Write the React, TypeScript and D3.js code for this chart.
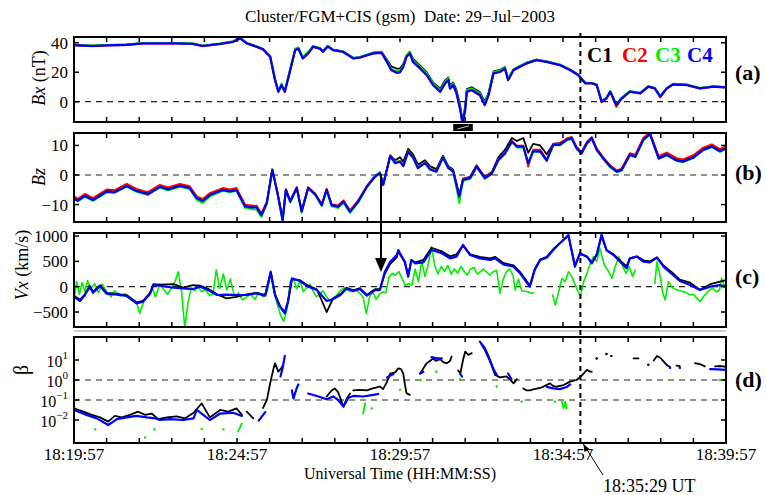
import { useEffect, useRef } from 'react';
import * as d3 from 'd3';

type Pt = [number, number | null];

const FONT = "'Liberation Serif', 'Times New Roman', Times, serif";
const COLORS = { c1: '#000000', c2: '#ff0000', c3: '#00ee00', c4: '#0000ff' };

// time axis in seconds after 18:19:57 UT
const timeLabels = ['18:19:57', '18:24:57', '18:29:57', '18:34:57', '18:39:57'];
const labelSecs = [0, 300, 600, 900, 1200];
const eventSec = 932; // 18:35:29 UT
const onsetSec = 565;
const intervalMark = [698, 734];

// (a) Bx (nT)
const timesA = [0, 20, 35, 60, 97, 127, 158, 189, 219, 237,
  269, 293, 306, 318, 336, 348, 361, 370, 376, 382,
  388, 398, 407, 413, 421, 431, 440, 453, 458, 467,
  477, 495, 514, 526, 550, 566, 576, 584, 594, 600,
  606, 612, 618, 624, 637, 649, 661, 674, 683, 689,
  692, 698, 704, 711, 715, 720, 723, 732, 747, 756,
  763, 772, 784, 793, 799, 809, 833, 851, 870, 894,
  913, 928, 941, 953, 962, 971, 980, 987, 998, 1008,
  1023, 1042, 1057, 1069, 1079, 1091, 1103, 1128, 1152, 1177,
  1200];
const bxC1 = [38.6, 38.2, 38, 38.4, 38.8, 39.8, 39.8, 39.8, 39.4, 38,
  39.4, 40.9, 43.2, 39.8, 37.5, 35.8, 31, 15.5, 7.2, 11,
  7.5, 22, 35.5, 36.5, 30, 33.3, 37.6, 36.3, 34.3, 37.8,
  35.3, 34.2, 29.8, 30.3, 33.2, 34, 28.5, 24, 22.5, 22.5,
  25.5, 31.5, 34, 29, 24.5, 20, 13, 8.8, 14.5, 16.5,
  11, 13, 8, -3, -13, -3, 8.5, 9.8, 6.5, 0,
  6, 20.5, 21.5, 23.5, 15.5, 22, 26.5, 28.6, 27.3, 25.2,
  21.8, 18.4, 12.8, 12.8, 11.6, 0.5, 2.6, 7, -1.8, 2.6,
  7, 6, 10.4, 9.2, 3.8, 9.2, 12, 11.5, 9.2, 10.4,
  9.9];
const bxC2 = [38.2, 37.8, 37.6, 38, 38.4, 39.4, 39.4, 39.4, 39, 37.6,
  39, 40.5, 42.8, 39.4, 37.1, 35.3, 30.2, 14.3, 6.5, 11,
  6.5, 21, 34.8, 35.8, 29.2, 32.6, 37.1, 35.8, 33.7, 37.3,
  34.8, 33.7, 29.2, 29.8, 32.6, 33, 26.8, 21.3, 19.5, 19.8,
  23.5, 30.2, 32.6, 26.8, 22.4, 17.9, 11, 6.5, 12.2, 14.5,
  8.7, 11, 5.4, -5.8, -15, -5.8, 6.5, 7.6, 4.2, -2.5,
  4.2, 19, 20, 22.4, 14.5, 21.3, 25.8, 28.1, 26.8, 24.7,
  21.3, 17.9, 12.2, 12.2, 11, -0.5, 2, 6.4, -3.6, 2,
  6.6, 5.5, 10, 8.8, 2.8, 8.8, 11.6, 11.1, 8.8, 10,
  9.5];
const bxC3 = [38.6, 38.3, 38, 38.5, 38.9, 39.9, 39.9, 39.9, 39.5, 38.1,
  39.5, 41, 43.2, 39.9, 37.6, 35.8, 31, 15.5, 7.5, 12.5,
  7.5, 22.5, 36, 37, 30.5, 34, 37.8, 36.4, 34.3, 37.8,
  35.4, 34.3, 29.8, 30.4, 33.2, 33.8, 27.8, 22.5, 20.8, 21,
  24.8, 31.6, 33.8, 28.2, 23.8, 19.3, 12.5, 8, 13.7, 15.9,
  10.2, 12.5, 6.9, -4.4, -14, -4.4, 8, 9.1, 5.7, -1,
  5.7, 20.2, 21.2, 23.4, 15.5, 22.2, 26.5, 28.7, 27.4, 25.3,
  21.9, 18.5, 12.9, 12.9, 11.7, 0.4, 2.7, 7.2, -1.8, 2.7,
  7.2, 6.1, 10.6, 9.4, 3.8, 9.4, 12.2, 11.7, 9.4, 10.6,
  10.1];
const bxC4 = [38.4, 38, 37.8, 38.2, 38.6, 39.6, 39.6, 39.6, 39.2, 37.8,
  39.2, 40.7, 43, 39.6, 37.3, 35.5, 30.5, 14.7, 6.8, 11.3,
  6.8, 21.5, 35, 36, 29.4, 32.8, 37.3, 36, 33.9, 37.5,
  35, 33.9, 29.4, 30, 32.8, 33.2, 27, 21.5, 19.7, 20,
  23.7, 30.5, 32.8, 27, 22.6, 18.1, 11.3, 6.8, 12.5, 14.7,
  9, 11.3, 5.7, -5.6, -15, -5.6, 6.8, 7.9, 4.5, -2.2,
  4.5, 19.2, 20.3, 22.6, 14.7, 21.5, 26, 28.3, 27, 24.9,
  21.5, 18.1, 12.5, 12.5, 11.3, 0, 2.3, 6.8, -2.2, 2.3,
  6.8, 5.7, 10.2, 9, 3.4, 9, 11.8, 11.3, 9, 10.2,
  9.7];

// (b) Bz (nT)
const timesB = [0, 7, 20, 35, 60, 75, 97, 115, 136, 158,
  173, 195, 213, 226, 237, 250, 274, 287, 299, 315,
  327, 336, 345, 355, 365, 375, 384, 390, 398, 410,
  419, 431, 444, 456, 465, 474, 486, 496, 508, 523,
  539, 554, 563, 569, 582, 591, 600, 606, 615, 624,
  633, 646, 655, 667, 679, 689, 698, 709, 716, 729,
  741, 756, 769, 781, 793, 806, 815, 827, 836, 845,
  858, 870, 882, 894, 907, 916, 925, 934, 944, 953,
  962, 974, 987, 999, 1008, 1023, 1033, 1048, 1060, 1076,
  1091, 1109, 1121, 1140, 1158, 1174, 1189, 1200];
const bzC1 = [-7.6, -8.4, -6.8, -8.2, -5.3, -5.5, -3.4, -5.1, -6.2, -3.7,
  -4.6, -3.4, -4.2, -7.6, -8.5, -6.5, -4.8, -5.3, -4.8, -10.4,
  -10.5, -10.4, -13.3, -9.2, 1.9, -6.4, -15.1, -4.9, -8.8, -4.2,
  -12.2, -4.2, -6.4, -10, -4.8, -10, -10.5, -8.8, -12.2, -8.8,
  -3.8, -0.4, 0.8, -3.2, 6.6, 5, 6, 4.5, 8.8, 7,
  3.5, 5, 3, 2, 6.5, 3, 1.8, -6.8, -1.2, -0.6,
  3.3, -0.6, 1, 6, 8.5, 12.5, 11.5, 12.5, 7.5, 10.5,
  10, 7, 10.5, 10.8, 12.2, 12.6, 9.3, 7.6, 11, 12.6,
  8.8, 5.9, 3.1, 1.4, 2, 7, 6.5, 12.2, 14.1, 5.9,
  7.1, 5.2, 4.8, 6.2, 8.8, 9.9, 8.3, 9.3];
const bzC2 = [-7.2, -8, -6.4, -7.8, -4.9, -5.1, -3, -4.7, -5.8, -3.3,
  -4.2, -3, -3.8, -7.2, -8.1, -6.1, -4.4, -4.9, -4.4, -10,
  -10.3, -10.5, -13, -9, 1.9, -6.3, -15, -4.8, -8.7, -4.1,
  -12, -4.1, -6.3, -9.8, -4.7, -9.9, -10.3, -8.6, -12, -8.6,
  -3.7, -0.3, 0.9, -3, 6.6, 4.2, 4.8, 3.3, 8, 6.1,
  2.6, 4.3, 2.2, 1.4, 6.1, 2.6, 1.4, -7, -1.4, -0.8,
  3.1, -0.8, 0.8, 5.4, 7, 11.5, 9.9, 9.9, 2.8, 8.6,
  8.6, 5.2, 10.6, 10.6, 12.4, 12.9, 9.5, 7.8, 11.2, 12.9,
  9, 6, 3.2, 1.5, 2.2, 7.4, 6.9, 12.6, 14.4, 6.4,
  7.6, 5.7, 5.3, 6.7, 9.3, 10.4, 8.8, 9.8];
const bzC3 = [-8.2, -9, -7.4, -8.8, -5.9, -6.1, -4, -5.7, -6.8, -4.3,
  -5.2, -4, -4.8, -8.5, -9.5, -7.3, -5.4, -5.9, -5.4, -11.2,
  -11.5, -11.8, -14.2, -9.8, 2, -7, -15.8, -5.4, -9.4, -4.6,
  -12.8, -4.6, -6.9, -10.6, -5.3, -10.6, -11.2, -9.5, -12.9, -9.4,
  -4.2, -0.4, 1, -3.2, 6.2, 4.4, 4.7, 3.2, 8, 6.1,
  2.5, 4.2, 2.1, 1.3, 6.1, 2.5, 1.3, -9.6, -2, -1.3,
  2.6, -1.3, 0.3, 4.9, 7.1, 11.1, 9.3, 9.3, 3.8, 7.8,
  7.8, 4.7, 10, 10, 11.7, 12.2, 8.8, 7.1, 10.5, 12.2,
  8.3, 5.4, 2.6, 0.9, 1.5, 6.6, 6, 11.7, 13.7, 5.4,
  6.6, 4.7, 4.3, 5.7, 8.3, 9.4, 7.8, 8.8];
const bzC4 = [-7.9, -8.7, -7.1, -8.5, -5.6, -5.8, -3.7, -5.4, -6.5, -4,
  -4.9, -3.7, -4.5, -7.9, -8.8, -6.8, -5.1, -5.6, -5.1, -10.7,
  -11, -11, -13.6, -9.4, 1.7, -6.6, -15.3, -5.1, -9, -4.4,
  -12.4, -4.4, -6.6, -10.2, -5, -10.2, -10.7, -9, -12.4, -9,
  -4, -0.6, 0.6, -3.4, 6.4, 4, 4.5, 3, 7.8, 5.9,
  2.3, 4, 1.9, 1.1, 5.9, 2.3, 1.1, -7.3, -1.7, -1.1,
  2.8, -1.1, 0.5, 5.1, 7.3, 11.3, 9.6, 9.6, 4, 8,
  8, 4.9, 10.2, 10.2, 11.9, 12.4, 9, 7.3, 10.7, 12.4,
  8.5, 5.6, 2.8, 1.1, 1.7, 6.8, 6.2, 11.9, 13.9, 5.6,
  6.8, 4.9, 4.5, 5.9, 8.5, 9.6, 8, 9];

// (c) Vx (km/s)
const timesC = [0, 11, 20, 29, 35, 48, 60, 79, 97, 115,
  127, 140, 146, 158, 183, 201, 219, 232, 247, 263,
  281, 299, 318, 336, 352, 362, 370, 379, 388, 394,
  401, 416, 431, 447, 465, 477, 490, 502, 514, 526,
  539, 554, 563, 572, 582, 594, 597, 600, 609, 615,
  621, 628, 643, 658, 677, 692, 704, 716, 729, 747,
  766, 775, 790, 809, 821, 830, 839, 848, 858, 870,
  882, 891, 901, 910, 922, 931, 944, 953, 962, 971,
  980, 993, 1005, 1017, 1023, 1036, 1048, 1060, 1073, 1085,
  1103, 1115, 1134, 1152, 1171, 1189, 1200];
const vxC1 = [-180, -260, -150, 20, -100, 30, -120, -140, -170, -310,
  -280, -120, 50, 40, 50, -20, 30, 20, -40, -150,
  -230, -200, -150, -120, -160, 280, -150, -380, -500, -280,
  150, 130, 20, -50, -500, -230, -150, -20, -70, -30,
  -160, -50, -50, 250, 450, 580, 700, 640, 480, 220,
  530, 480, 530, 770, 700, 600, 640, 820, 640, 590,
  560, 590, 470, 420, 290, 160, 20, 350, 540, 590,
  740, 830, 930, 1000, 420, 650, 600, 480, 640, 1000,
  720, 640, 520, 400, 560, 600, 520, 500, 580, 420,
  260, 140, 80, -60, 50, 100, 130];
const vxC4 = [-198, -283, -164, 0, -119, 13, -138, -158, -184, -330,
  -296, -138, 33, 20, -20, -33, -46, 0, -66, -164,
  -158, -164, -164, -131, -178, 296, -164, -395, -526, -296,
  165, 112, 0, -66, -283, -244, -164, -33, -86, -46,
  -178, -66, -66, 296, 494, 626, 725, 660, 494, 197,
  527, 462, 481, 725, 660, 560, 593, 824, 626, 560,
  527, 560, 442, 396, 264, 132, 0, 330, 527, 573,
  725, 824, 922, 1021, 396, 660, 593, 462, 626, 1030,
  725, 626, 494, 363, 560, 593, 494, 481, 573, 396,
  230, 112, 33, -66, 0, 33, 0];
const vxC3: Pt[] = [[0, -250], [5, 100], [10, -150], [15, 80], [20, -100], [25, 120], [30, -50], [38, 60], [45, -120], [52, 50],
  [60, -100], [68, -200], [75, -80], [85, -180], [95, -140], [105, -220], [115, -300], [121, -530], [128, -300], [135, -200],
  [140, -120], [145, -50], [150, -200], [158, 50], [165, -60], [172, -150], [180, -20], [186, 100], [192, 296], [198, -100],
  [204, -823], [210, -300], [216, -20], [222, -80], [228, 0], [235, -100], [242, -60], [250, -180], [256, -140], [262, 336],
  [268, -40], [275, 250], [281, -60], [288, 150], [295, -180], [303, -120], [310, -260], [318, -200], [325, -150], [333, -250],
  [340, -120], [348, -200], [356, -80], [362, 296], [368, -100], [374, -340], [380, -560], [386, -685], [392, -450], [398, 100],
  [404, 150], [410, -40], [416, 120], [422, -100], [428, -30], [434, 50], [440, -80], [446, -200], [452, -150], [458, -80],
  [465, -200], [472, -300], [478, -240], [485, -150], [492, -60], [498, -20], [505, -80], [512, -100], [518, -60], [525, -120],
  [532, -200], [538, -526], [544, -200], [550, -100], [556, -250], [562, -150], [568, -100], [574, -120], [580, 200], [586, 260],
  [592, 230], [598, 300], [604, 150], [610, 33], [616, 60], [622, 33], [628, 350], [634, 100], [640, 500], [646, 200],
  [652, 450], [658, 790], [664, 420], [670, 250], [676, 400], [682, 300], [688, 420], [694, 250], [700, 350], [706, 270],
  [712, 400], [718, 300], [724, 230], [730, 350], [736, 380], [742, 250], [748, 300], [754, 350], [760, 280], [766, 230],
  [772, 300], [778, 320], [784, -130], [790, 150], [796, 300], [802, 350], [808, 220], [812, -66], [818, 150], [824, -80],
  [830, -90], [836, -100], [842, -130], [846, -120], [850, null],
  [881, -165], [886, -363], [892, -100], [898, 165], [904, 100], [910, 297], [916, 200], [922, 50], [928, -100], [932, -198],
  [938, 100], [944, 264], [950, 450], [956, 593], [962, 500], [968, 760], [976, 429], [984, 300], [990, 165], [996, 400],
  [1003, 593], [1010, 400], [1016, 264], [1022, 400], [1028, 200], [1033, 330], [1040, null],
  [1069, 66], [1073, 494], [1079, 200], [1083, -98], [1088, -264], [1094, 99], [1103, -33], [1109, -60], [1115, -80], [1122, -98],
  [1128, -120], [1134, -165], [1140, -150], [1146, -220], [1152, -296], [1158, -200], [1164, -130], [1170, -60], [1176, -30], [1182, -100],
  [1188, -66], [1192, 165], [1196, 50], [1200, -20]];

// (d) plasma beta, gaps are null
const betaC1: Pt[] = [[0, 0.038], [17, 0.026], [33, 0.018], [48, 0.0135], [63, 0.0083], [75, 0.016], [88, 0.0135], [103, 0.018], [118, 0.026], [131, 0.018],
  [143, 0.021], [155, 0.011], [171, 0.0135], [189, 0.015], [204, 0.012], [220, 0.023], [235, 0.068], [250, 0.0135], [269, 0.032], [284, 0.026],
  [299, 0.038], [309, 0.018], [313, null], [318, 0.026], [330, 0.012], [334, null],
  [348, 0.04], [355, 0.1], [361, 0.68], [367, 3.5], [370, 6.8], [376, 2.6], [382, 4], [385, 5.6], [387, null],
  [465, 0.15], [474, 0.3], [480, 0.38], [486, 0.25], [496, 0.047], [502, 0.12], [508, 0.21], [511, null],
  [514, 0.3], [526, 0.32], [539, 0.3], [550, 0.38], [563, 0.47], [569, 0.35], [576, 0.8], [582, 2.1], [591, 2.4], [597, 3.8],
  [602, 3.5], [606, 2.1], [609, 0.6], [612, 0.22], [618, 0.18], [622, null],
  [637, 2.1], [649, 6.8], [655, 9], [661, 12], [666, 9], [674, 11], [679, 8], [686, 6.8], [692, 9], [695, 14.8], [699, null],
  [707, 3], [711, 2.1], [716, 10], [720, 26], [726, 18], [732, 22], [735, null],
  [750, 60], [756, 32], [766, 8.3], [775, 1.8], [784, 1.35], [796, 1.5], [802, 1.1], [809, 0.68], [815, 1.1], [819, null],
  [827, 0.38], [833, 0.3], [839, 0.3], [845, 0.34], [858, 0.4], [864, 0.47], [876, 0.68], [882, 0.5], [888, 0.47], [901, 0.56],
  [913, 0.83], [925, 1], [934, 1.6], [944, 3.2], [950, 2.6], [953, 2.6], [956, null],
  [962, 12], [965, null], [980, 20], [983, null], [989, 16], [992, null], [1030, 12], [1039, 12], [1042, null],
  [1067, 9.5], [1073, 16], [1079, 13], [1085, 8.5], [1091, 5.6], [1097, 4.5], [1100, null], [1109, 5.2], [1115, 5], [1118, null],
  [1143, 7], [1152, 6.3], [1161, 4.8], [1165, null], [1180, 4.8], [1190, 5], [1200, 4.6]];
const betaC3: Pt[] = [[39, 0.0034], [41, null], [131, 0.00135], [133, null], [148, 0.0034], [150, null], [235, 0.0035], [237, null],
  [275, 0.0034], [277, null], [302, 0.0026], [309, 0.0068], [311, null], [532, 0.021], [536, 0.068], [538, null], [548, 0.038], [550, null],
  [600, 0.32], [602, null], [638, 1], [640, null], [667, 2.6], [669, null], [711, 1.1], [713, null], [778, 0.47], [780, null],
  [824, 0.083], [826, null], [885, 0.083], [887, null], [898, 0.083], [901, 0.038], [904, 0.083], [907, 0.038], [909, null],
  [1189, 1], [1191, null]];
const betaC4: Pt[] = [[0, 0.032], [23, 0.018], [42, 0.012], [63, 0.0056], [79, 0.011], [97, 0.0135], [115, 0.016], [134, 0.0135], [150, 0.012], [158, 0.01],
  [177, 0.011], [201, 0.01], [220, 0.012], [226, 0.032], [238, 0.018], [250, 0.01], [269, 0.021], [293, 0.023], [309, 0.016], [312, null],
  [340, 0.0093], [352, 0.025], [355, null], [380, 1.5], [384, 4], [388, 16], [391, null],
  [401, 0.3], [404, 0.12], [410, 0.4], [413, 0.6], [416, null],
  [431, 0.21], [450, 0.15], [465, 0.11], [477, 0.15], [486, 0.1], [496, 0.047], [505, 0.13], [514, 0.16], [532, 0.15], [551, 0.18],
  [560, 0.2], [565, null], [576, 1.35], [588, 2], [591, null], [637, 2.1], [643, 2.6], [646, null], [658, 14], [667, 12], [677, 12], [680, null],
  [711, 2], [714, 1.5], [717, null], [747, 83], [756, 40], [763, 15], [772, 3.5], [778, 1.8], [781, null], [799, 2.1], [805, 1.1], [808, null],
  [870, 0.45], [882, 0.38], [894, 0.35], [907, 0.45], [913, 0.6], [916, null],
  [1057, 5.8], [1060, null], [1097, 4.1], [1100, null], [1115, 4.1], [1118, null], [1171, 3.5], [1185, 3.4], [1200, 3.2]];

const zip = (t: number[], v: number[]): Pt[] => t.map((s, i) => [s, v[i]]);
const minus = (v: number) => (v < 0 ? '\u2212' + Math.abs(v) : String(v));

export default function App() {
  const svgRef = useRef<SVGSVGElement>(null);

  useEffect(() => {
    const svg = d3.select(svgRef.current!);
    svg.selectAll('*').remove();
    const left = 74, right = 726;
    const x = d3.scaleLinear().domain([0, 1200]).range([left, right]);
    const defs = svg.append('defs');

    const panels = [
      { key: 'a', top: 37, bottom: 122, y: d3.scaleLinear().domain([-13.8, 43.9]).range([122, 37]) as any, ticks: [0, 20, 40], refs: [0], tag: '(a)', tagY: 80,
        series: [{ d: zip(timesA, bxC1), c: COLORS.c1, w: 1.8 }, { d: zip(timesA, bxC2), c: COLORS.c2, w: 1.8 }, { d: zip(timesA, bxC3), c: COLORS.c3, w: 1.8 }, { d: zip(timesA, bxC4), c: COLORS.c4, w: 2.2 }] },
      { key: 'b', top: 133, bottom: 222, y: d3.scaleLinear().domain([-15.9, 14.2]).range([222, 133]) as any, ticks: [-10, 0, 10], refs: [0], tag: '(b)', tagY: 180,
        series: [{ d: zip(timesB, bzC1), c: COLORS.c1, w: 1.8 }, { d: zip(timesB, bzC2), c: COLORS.c2, w: 1.8 }, { d: zip(timesB, bzC3), c: COLORS.c3, w: 1.8 }, { d: zip(timesB, bzC4), c: COLORS.c4, w: 2.2 }] },
      { key: 'c', top: 233, bottom: 327, y: d3.scaleLinear().domain([-796, 1061]).range([327, 233]) as any, ticks: [-500, 0, 500, 1000], refs: [0], tag: '(c)', tagY: 284,
        series: [{ d: vxC3, c: COLORS.c3, w: 1.6 }, { d: zip(timesC, vxC1), c: COLORS.c1, w: 1.8 }, { d: zip(timesC, vxC4), c: COLORS.c4, w: 2.2 }] },
      { key: 'd', top: 337, bottom: 443, y: d3.scaleLog().domain([Math.pow(10, -3.15), Math.pow(10, 2.15)]).range([443, 337]) as any, ticks: [0.01, 0.1, 1, 10], refs: [1, 0.1], tag: '(d)', tagY: 387,
        series: [{ d: betaC3, c: COLORS.c3, w: 1.8 }, { d: betaC1, c: COLORS.c1, w: 1.8 }, { d: betaC4, c: COLORS.c4, w: 2.2 }] },
    ];

    // faint line above panel d
    svg.append('line').attr('x1', left).attr('x2', right).attr('y1', 331).attr('y2', 331)
      .attr('stroke', '#9a9a9a').attr('stroke-width', 1);

    panels.forEach((p) => {
      const clipId = `clip-${p.key}`;
      defs.append('clipPath').attr('id', clipId).append('rect')
        .attr('x', left).attr('y', p.top).attr('width', right - left).attr('height', p.bottom - p.top);
      const g = svg.append('g');

      // dashed reference lines
      p.refs.forEach((r) => {
        g.append('line').attr('x1', left).attr('x2', right).attr('y1', p.y(r)).attr('y2', p.y(r))
          .attr('stroke', '#222').attr('stroke-width', 1.2).attr('stroke-dasharray', '6,5');
      });

      const plot = g.append('g').attr('clip-path', `url(#${clipId})`);
      p.series.forEach((s) => {
        const line = d3.line<Pt>().defined((d) => d[1] !== null).x((d) => x(d[0])).y((d) => p.y(d[1] as number));
        plot.append('path').attr('d', line(s.d)).attr('fill', 'none').attr('stroke', s.c)
          .attr('stroke-width', s.w).attr('stroke-linejoin', 'round').attr('stroke-linecap', 'round');
        const lone = s.d.filter((d, i) => d[1] !== null && (!s.d[i - 1] || s.d[i - 1][1] === null) && (!s.d[i + 1] || s.d[i + 1][1] === null));
        plot.selectAll(null).data(lone).join('circle')
          .attr('cx', (d) => x(d[0])).attr('cy', (d) => p.y(d[1] as number)).attr('r', 1.2).attr('fill', s.c);
      });

      // frame
      g.append('rect').attr('x', left).attr('y', p.top).attr('width', right - left).attr('height', p.bottom - p.top)
        .attr('fill', 'none').attr('stroke', '#000').attr('stroke-width', 2);

      // x ticks, inward, every minute
      d3.range(60, 1200, 60).forEach((t) => {
        g.append('line').attr('x1', x(t)).attr('x2', x(t)).attr('y1', p.top).attr('y2', p.top + 5).attr('stroke', '#000').attr('stroke-width', 1.5);
        g.append('line').attr('x1', x(t)).attr('x2', x(t)).attr('y1', p.bottom).attr('y2', p.bottom - 5).attr('stroke', '#000').attr('stroke-width', 1.5);
      });

      // y ticks
      p.ticks.forEach((v) => {
        const yy = p.y(v);
        g.append('line').attr('x1', left).attr('x2', left + 5).attr('y1', yy).attr('y2', yy).attr('stroke', '#000').attr('stroke-width', 1.5);
        g.append('line').attr('x1', right).attr('x2', right - 5).attr('y1', yy).attr('y2', yy).attr('stroke', '#000').attr('stroke-width', 1.5);
        const txt = g.append('text').attr('x', 68).attr('y', yy + 6).attr('text-anchor', 'end')
          .attr('font-family', FONT).attr('font-size', 17).attr('fill', '#000');
        if (p.key === 'd') {
          const e = Math.round(Math.log10(v));
          txt.attr('y', yy + 7).attr('font-size', 16).text('10');
          txt.append('tspan').attr('dy', -8).attr('font-size', 11).text(minus(e));
        } else {
          txt.text(minus(v));
        }
      });

      g.append('text').attr('x', 735).attr('y', p.tagY).attr('font-family', FONT).attr('font-size', 22)
        .attr('font-weight', 'bold').attr('fill', '#000').text(p.tag);
    });

    const pd = panels[3];
    // x tick labels
    labelSecs.forEach((t, i) => {
      svg.append('text').attr('x', x(t)).attr('y', 460).attr('text-anchor', 'middle')
        .attr('font-family', FONT).attr('font-size', 17).text(timeLabels[i]);
    });
    svg.append('text').attr('x', 400).attr('y', 479).attr('text-anchor', 'middle')
      .attr('font-family', FONT).attr('font-size', 16).text('Universal Time (HH:MM:SS)');

    // title
    svg.append('text').attr('x', 400).attr('y', 22).attr('text-anchor', 'middle').style('white-space', 'pre')
      .attr('font-family', FONT).attr('font-size', 17).text('Cluster/FGM+CIS (gsm)  Date: 29\u2212Jul\u22122003');

    // y labels
    const ylab = (cx: number, cy: number, it: string, rest: string) => {
      const t = svg.append('text').attr('transform', `translate(${cx},${cy}) rotate(-90)`).attr('text-anchor', 'middle')
        .attr('font-family', FONT).attr('font-size', 18).style('white-space', 'pre');
      t.append('tspan').attr('font-style', 'italic').text(it);
      if (rest) t.append('tspan').text(rest);
    };
    ylab(45, 78, 'Bx', ' (nT)');
    ylab(45, 177, 'Bz', '');
    ylab(28, 265, 'Vx', ' (km/s)');
    svg.append('text').attr('transform', `translate(28,370) rotate(-90)`).attr('text-anchor', 'middle')
      .attr('font-family', FONT).attr('font-size', 20).text('\u03b2');

    // legend
    [['C1', COLORS.c1, 587], ['C2', COLORS.c2, 622], ['C3', COLORS.c3, 655], ['C4', COLORS.c4, 687]].forEach(([t, c, px]) => {
      svg.append('text').attr('x', px as number).attr('y', 62).attr('font-family', FONT).attr('font-size', 21)
        .attr('font-weight', 'bold').attr('fill', c as string).text(t as string);
    });

    // event time dashed line
    svg.append('line').attr('x1', x(eventSec)).attr('x2', x(eventSec)).attr('y1', 33).attr('y2', pd.bottom)
      .attr('stroke', '#000').attr('stroke-width', 2).attr('stroke-dasharray', '5,4');

    // interval marker below panel a
    svg.append('rect').attr('x', x(intervalMark[0])).attr('y', 124).attr('width', x(intervalMark[1]) - x(intervalMark[0])).attr('height', 7).attr('fill', '#000');
    svg.append('line').attr('x1', x(intervalMark[0]) + 4).attr('x2', x(intervalMark[1]) - 4).attr('y1', 129).attr('y2', 126)
      .attr('stroke', '#fff').attr('stroke-width', 0.8);

    // onset arrow from Bz to Vx
    const ax = x(onsetSec);
    svg.append('line').attr('x1', ax).attr('x2', ax).attr('y1', 174).attr('y2', 260).attr('stroke', '#000').attr('stroke-width', 2);
    svg.append('path').attr('d', `M${ax - 6},258 L${ax + 6},258 L${ax},272 Z`).attr('fill', '#000');

    // annotation arrow
    const tipX = x(eventSec) + 3, tipY = 444;
    svg.append('line').attr('x1', 603).attr('x2', tipX).attr('y1', 475).attr('y2', tipY).attr('stroke', '#000').attr('stroke-width', 1);
    svg.append('path').attr('d', `M${tipX},${tipY} L${tipX + 1},${tipY + 8} L${tipX + 6},${tipY + 5} Z`).attr('fill', '#000');
    svg.append('text').attr('x', 603).attr('y', 492).attr('font-family', FONT).attr('font-size', 18).text('18:35:29 UT');
  }, []);

  return (
    <div style={{ position: 'absolute', left: 0, top: 0, width: 766, height: 495, background: '#fff' }}>
      <svg ref={svgRef} width={766} height={495} style={{ display: 'block' }} />
    </div>
  );
}
